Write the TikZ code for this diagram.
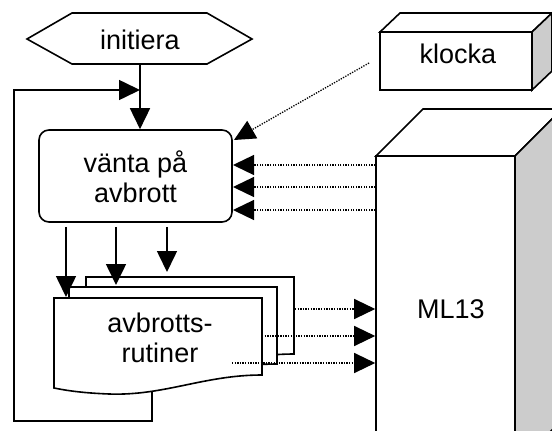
\documentclass[tikz,border=0pt]{standalone}
\usepackage{fontspec}
\setmainfont{Liberation Sans}
\usetikzlibrary{arrows.meta}
\begin{document}
\begin{tikzpicture}[x=1pt,y=-1pt,
  line/.style={line width=1.6pt, line join=miter},
  tip/.style={-{Triangle[length=21pt,width=20pt]}},
  dots/.style={line width=1.3pt, dash pattern=on 1.3pt off 1.3pt},
  lbl/.style={font=\fontsize{27}{30}\selectfont, align=center, inner sep=0pt},
  box/.style={line, draw=black, fill=white},
  side/.style={line, draw=black, fill=black!20},
  docshape/.pic={
    \draw[box] (0,0) -- (208,0) -- (208,77)
      .. controls (150,77) and (110,98) .. (55,96)
      .. controls (30,95) and (15,93) .. (0,90) -- cycle;
  }]
\useasboundingbox (0,0) rectangle (552,431);
\fill[white] (0,0) rectangle (552,431);
\clip (0,0) rectangle (552,431);

% initiera hexagon
\draw[box] (27,39) -- (72,13) -- (207,13) -- (252,39) -- (207,64) -- (72,64) -- cycle;
\node[lbl] (init) at (140,40) {initiera};
\coordinate (initb) at (140,64);

% wait box
\node[box, rounded corners=10pt, minimum width=193pt, minimum height=92pt, inner sep=0pt] (vr) at (135.5,176) {};
\node[lbl] (vrt) at (135.5,177) {vänta på\\avbrott};

% documents
\pic at (86,277) {docshape};
\pic at (69,287) {docshape};
\pic at (54,298) {docshape};
\node[lbl] (rut) at (160,338) {avbrotts-\\rutiner};

% klocka box
\draw[box] (380,32) -- (400,13) -- (552,13) -- (532,32) -- cycle;
\draw[side] (532,32) -- (552,13) -- (552,71) -- (532,90) -- cycle;
\node[box, minimum width=152pt, minimum height=58pt, inner sep=0pt] (kl) at (456,61) {};
\node[lbl] (klt) at (458,54) {klocka};

% ML13 box
\draw[box] (376,156) -- (423,109) -- (562,109) -- (515,156) -- cycle;
\draw[side] (515,156) -- (562,109) -- (562,420) -- (515,467) -- cycle;
\node[box, minimum width=139pt, minimum height=311pt, inner sep=0pt] (ml) at (445.5,311.5) {};
\node[lbl] (mlt) at (451,309) {ML13};

% flow arrows
\draw[line,tip] (initb) -- (initb |- vr.north);
\coordinate (d1) at (66,297);
\coordinate (d2) at (116,285);
\coordinate (d3) at (167,272);
\draw[line,tip] (d1 |- vr.south) ++(0,4) -- (d1);
\draw[line,tip] (d2 |- vr.south) ++(0,4) -- (d2);
\draw[line,tip] (d3 |- vr.south) ++(0,4) -- (d3);

% loop back
\coordinate (la) at (152,392);
\coordinate (lb) at (152,421);
\coordinate (lc) at (14,421);
\coordinate (ld) at (14,90);
\coordinate (le) at (140,90);
\draw[line,tip] (la) -- (lb) -- (lc) -- (ld) -- (le);

% klocka interrupt
\coordinate (k0) at (369,63);
\coordinate (k1) at (234,140);
\draw[dots,tip] (k0) -- (k1);

% ML13 -> wait box
\coordinate (r1) at (233,165);
\coordinate (r2) at (233,187);
\coordinate (r3) at (233,210);
\draw[dots,tip] (r1 -| ml.west) -- (r1);
\draw[dots,tip] (r2 -| ml.west) -- (r2);
\draw[dots,tip] (r3 -| ml.west) -- (r3);

% routines -> ML13
\coordinate (s1) at (295,309);
\coordinate (s2) at (262,336);
\coordinate (s3) at (232,363);
\draw[dots,tip] (s1) -- (s1 -| ml.west);
\draw[dots,tip] (s2) -- (s2 -| ml.west);
\draw[dots,tip] (s3) -- (s3 -| ml.west);
\end{tikzpicture}
\end{document}
